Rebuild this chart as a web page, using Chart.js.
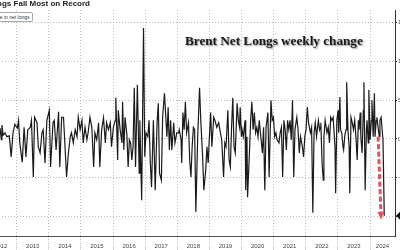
<!DOCTYPE html>
<html>
<head>
<meta charset="utf-8">
<script src="https://cdn.jsdelivr.net/npm/chart.js@4.4.1/dist/chart.umd.min.js"></script>
<style>
  html, body { margin: 0; padding: 0; background: #fff; }
  body { width: 400px; height: 250px; overflow: hidden; position: relative; }
  #wrap { position: absolute; left: -40px; top: 0; width: 480px; height: 250px; }
  #title { position: absolute; right: 310px; top: 0; white-space: nowrap; font: bold 8px "Liberation Sans", Arial, sans-serif; line-height: 1; color: #222; }
  #legend { position: absolute; right: 367.5px; top: 11.5px; height: 8px; white-space: nowrap; border: 1px solid #a8a8a8; border-radius: 2px; padding: 0 2px; font: 5px "Liberation Sans", Arial, sans-serif; line-height: 8px; color: #333; background: #fff; }
  #note { position: absolute; left: 185px; top: 34px; white-space: nowrap; font: bold 13.2px "Liberation Serif", "Times New Roman", serif; line-height: 1; color: #1a1a1a; text-shadow: 1px 1px 1.5px rgba(0,0,0,0.45); }
</style>
</head>
<body>
<div id="wrap"><canvas id="c"></canvas></div>
<div id="title">Brent Net Longs Fall Most on Record</div>
<div id="legend">— Change in net longs</div>
<div id="note">Brent Net Longs weekly change</div>
<script>
// ---- data (weekly change in Brent net longs, thousands of contracts) ----
const firstWeek = '2012-06-26';
const weekNo = [0,2,3,5,8,11,15,18,21,24,28,30,32,36,39,42,45,49,51,54,56,60,62,65,68,70,73,76,80,82,86,88,91,95,97,100,103,106,108,111,114,116,119,122,125,127,
130,133,135,138,141,143,146,149,152,154,157,160,162,165,168,171,173,176,179,181,184,187,188,191,192,195,198,199,201,203,206,208,210,212,214,216,218,220,223,226,227,230,233,235,237,240,242,244,246,249,252,255,257,259,
262,264,267,271,273,275,277,279,282,284,287,290,291,294,295,297,299,301,303,306,308,310,312,314,316,318,321,324,326,329,331,334,336,338,340,342,344,347,349,352,355,357,360,363,365,367,370,372,374,376,378,380,382,385,387,389,
390,392,393,395,398,399,401,402,405,407,409,411,413,415,417,419,421,424,426,428,430,432,435,437,440,442,444,446,448,450,453,455,457,459,461,463,465,467,469,471,473,475,477,479,482,484,486,488,491,493,495,497,499,501,504,506,508,510,512,514,517,519,
520,521,523,525,526,528,531,533,535,537,539,541,544,545,547,549,550,552,553,555,557,558,560,562,563,565,567,568,570,572,574,576,578,580,582,583,585,586,588,590,591,593,595,596,598,599,601,603,604,606,608,609,611,612,614,616,617,619,621,622,624];
const netChange = [14,-1,18,5,8,3,4,-23,8,19,14,24,-5,-30,15,-23,12,15,24,-49,28,21,-10,-18,8,12,-31,24,37,-36,21,24,-14,35,-36,28,28,-18,-49,-18,3,8,-5,12,3,28,
12,24,-5,15,-1,8,28,15,-36,8,-1,21,-36,12,27,-5,21,12,21,-10,15,24,53,-27,37,12,-5,48,-14,28,5,-36,-1,-5,-27,-10,66,-36,70,-44,24,-79,143,-23,8,3,24,-30,-62,24,-66,21,46,-44,
-53,28,59,3,41,-14,24,-14,21,-5,8,8,12,-1,-31,34,12,48,8,21,-27,-49,-10,15,12,-94,3,66,24,-23,-66,-40,-10,-31,3,34,-10,28,24,15,21,12,-1,-49,-5,-10,37,-27,-36,15,53,-10,-18,46,24,15,
41,3,12,3,24,-66,3,-75,-18,24,48,12,34,8,15,3,24,-1,-18,15,-66,15,34,-49,50,24,28,3,8,-1,-5,8,15,-49,24,12,-14,24,12,24,-1,50,-49,12,28,12,-18,3,-10,-23,3,12,41,21,8,15,-95,8,21,3,24,12,
15,21,-31,-53,3,24,8,15,-5,28,24,28,-10,-70,24,37,8,54,12,8,-10,-14,5,12,73,12,-10,-70,28,21,12,24,3,-27,24,12,34,3,-18,37,73,-66,12,24,-5,63,-1,24,50,3,59,3,24,28,15,3,24,28,8,-1,-99];
const years = [2012,2013,2014,2015,2016,2017,2018,2019,2020,2021,2022,2023,2024];
const yTickValues = [-100,-50,0,50,100,150];
const arrowStart = [614, 3];    // [week, value]
const arrowEnd = [619, -104];

// ---- scale helpers ----
const DAY = 86400000;
const t0 = Date.parse(firstWeek + 'T00:00:00Z');
const weekTime = w => t0 + w * 7 * DAY;
const yStart = y => Date.UTC(y, 0, 1);
const pxPerMs = (370 - 16.7) / (yStart(2024) - yStart(2013));
const xMin = yStart(2013) - (16.7 + 40) / pxPerMs;
const xMax = yStart(2013) + (395 - 16.7) / pxPerMs;
const labelPos = years.map(y => y === 2024 ? (yStart(2024) + xMax) / 2 : (yStart(y) + yStart(y + 1)) / 2);

const points = weekNo.map((w, i) => ({ x: weekTime(w), y: netChange[i] }));

const marks = {
  id: 'marks',
  afterDatasetsDraw(chart) {
    const { ctx, scales: { x, y } } = chart;
    const x0 = x.getPixelForValue(weekTime(arrowStart[0])), y0 = y.getPixelForValue(arrowStart[1]);
    const x1 = x.getPixelForValue(weekTime(arrowEnd[0])), y1 = y.getPixelForValue(arrowEnd[1]);
    const ang = Math.atan2(y1 - y0, x1 - x0);
    const head = 8, hw = 3.5;
    const bx = x1 - head * Math.cos(ang), by = y1 - head * Math.sin(ang);
    ctx.save();
    ctx.strokeStyle = 'rgba(228,62,74,0.9)';
    ctx.fillStyle = 'rgba(228,62,74,0.9)';
    ctx.lineWidth = 3;
    ctx.setLineDash([5, 2.5]);
    ctx.beginPath(); ctx.moveTo(x0, y0); ctx.lineTo(bx, by); ctx.stroke();
    ctx.setLineDash([]);
    ctx.beginPath();
    ctx.moveTo(x1, y1);
    ctx.lineTo(bx + hw * Math.sin(ang), by - hw * Math.cos(ang));
    ctx.lineTo(bx - hw * Math.sin(ang), by + hw * Math.cos(ang));
    ctx.closePath(); ctx.fill();
    ctx.restore();
  },
  afterDraw(chart) {
    const { ctx, chartArea, scales: { y } } = chart;
    const yv = y.getPixelForValue(netChange[netChange.length - 1]);
    const r = chartArea.right + 1;
    ctx.save();
    ctx.fillStyle = '#111';
    ctx.beginPath();
    ctx.moveTo(r, yv);
    ctx.lineTo(r + 4, yv - 4);
    ctx.lineTo(r + 30, yv - 4);
    ctx.lineTo(r + 30, yv + 4);
    ctx.lineTo(r + 4, yv + 4);
    ctx.closePath(); ctx.fill();
    ctx.restore();
  }
};

const isLabel = ctx => !!(ctx.tick && ctx.tick.yr);

new Chart(document.getElementById('c'), {
  type: 'line',
  data: {
    datasets: [{
      label: 'Change in net longs',
      data: points,
      borderColor: '#1a1a1a',
      borderWidth: 1.2,
      pointRadius: 0,
      tension: 0,
      fill: false
    }]
  },
  options: {
    responsive: true,
    maintainAspectRatio: false,
    animation: false,
    devicePixelRatio: 1,
    layout: { padding: { top: 10, left: 0, right: 0, bottom: 0 } },
    plugins: { legend: { display: false }, tooltip: { enabled: false } },
    scales: {
      x: {
        type: 'linear', position: 'bottom', min: xMin, max: xMax,
        afterBuildTicks: s => {
          const t = years.map(y => ({ value: yStart(y) }))
            .concat(labelPos.map((v, i) => ({ value: v, yr: years[i] })));
          t.sort((a, b) => a.value - b.value);
          s.ticks = t;
        },
        ticks: {
          autoSkip: false, maxRotation: 0, minRotation: 0, padding: -7, color: '#444',
          font: { family: '"Liberation Sans Narrow", "Liberation Sans", Arial, sans-serif', size: 6 },
          callback: (v, i, t) => (t[i] && t[i].yr) ? String(t[i].yr) : ''
        },
        grid: {
          color: c => isLabel(c) ? 'rgba(0,0,0,0)' : '#bdbdbd',
          tickColor: c => isLabel(c) ? 'rgba(0,0,0,0)' : '#c4c4c4',
          lineWidth: 1, drawTicks: true, tickLength: 14, tickBorderDash: [1, 1]
        },
        border: { display: true, color: '#555', width: 1, dash: [1, 2] },
        afterFit: s => { s.height = 14; }
      },
      y: {
        type: 'linear', position: 'right', min: -125, max: 166.2,
        afterBuildTicks: s => { s.ticks = yTickValues.map(v => ({ value: v })); },
        ticks: { padding: 1, color: '#555', font: { family: '"Liberation Sans", Arial, sans-serif', size: 6 } },
        grid: { color: '#bdbdbd', lineWidth: 1, tickLength: 2, tickColor: '#333', tickBorderDash: [] },
        border: { display: true, color: '#333', width: 1, dash: [1, 2] },
        afterFit: s => { s.width = 45; }
      }
    }
  },
  plugins: [marks]
});
</script>
</body>
</html>
